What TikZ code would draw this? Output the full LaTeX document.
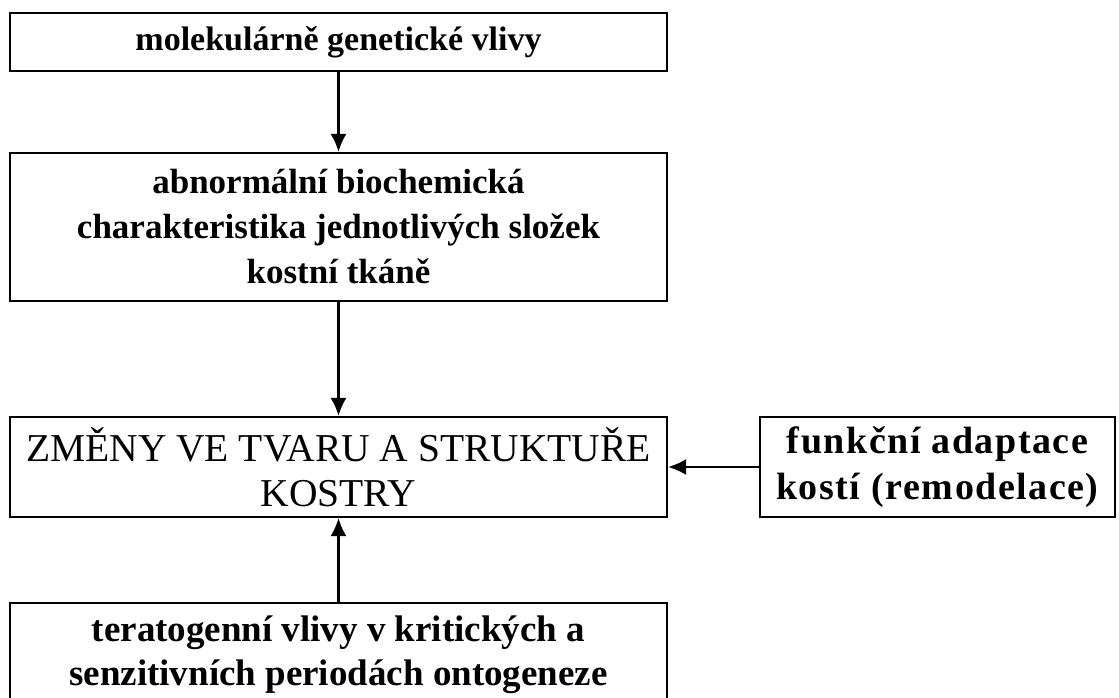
\documentclass[tikz,border=0pt]{standalone}
\usepackage{fontspec}
\setmainfont{Liberation Serif}
\usetikzlibrary{arrows.meta}
\begin{document}
\begin{tikzpicture}[x=1pt, y=1pt,
	box/.style={draw, line width=2.2pt, minimum width=657pt, align=center,
		inner sep=0pt, font=\fontsize{35}{45}\selectfont\bfseries},
	arr/.style={line width=2.2pt, -{Latex[length=18pt,width=16pt]}}]
	\useasboundingbox (0,0) rectangle (1119,697);

	\node [box, minimum height=58pt, font=\fontsize{34}{45}\selectfont\bfseries] (gen) at (338.5,655)
		{molekulárně genetické vlivy};
	\node [box, minimum height=148pt] (bio) at (338.5,470)
		{abnormální biochemická\\ charakteristika jednotlivých složek\\ kostní tkáně};
	\node [box, minimum height=100pt, font=\fontsize{39.5}{45}\selectfont] (zmeny) at (338.5,230)
		{ZMĚNY VE TVARU A STRUKTUŘE\\ KOSTRY};
	\node [box, minimum width=355pt, minimum height=100pt,
		font=\fontsize{38}{46}\selectfont\bfseries\addfontfeature{LetterSpace=4}]
		(adapt) at (937.5,230) {funkční adaptace\\ kostí (remodelace)};
	\node [box, anchor=north, inner ysep=13pt, font=\fontsize{37}{44}\selectfont\bfseries]
		(terat) at (338.5,95) {teratogenní vlivy v kritických a\\ senzitivních periodách ontogeneze};

	\draw [arr] (gen) -- (bio);
	\draw [arr] (bio) -- (zmeny);
	\draw [arr] (adapt) -- (zmeny);
	\draw [arr] (terat) -- (zmeny);

\end{tikzpicture}
\end{document}
